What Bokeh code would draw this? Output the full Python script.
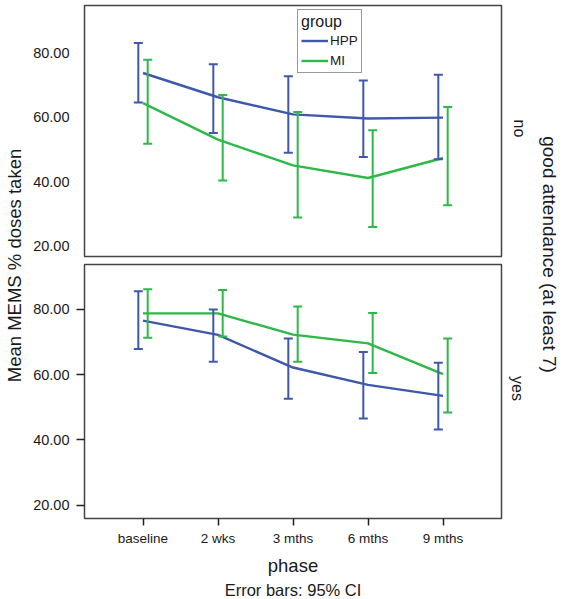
import numpy as np
from bokeh.plotting import figure
from bokeh.models import (Range1d, FixedTicker, NumeralTickFormatter, Legend, LegendItem,
                          Label, Title)
from bokeh.layouts import row, column
from bokeh.embed import file_html
from bokeh.resources import INLINE

# ---------------- data ----------------
phases = ["baseline", "2 wks", "3 mths", "6 mths", "9 mths"]
groups = ["HPP", "MI"]
y_ticks = [20, 40, 60, 80]

# good attendance = no (top panel)
no_hpp_mean = [73.7, 66.2, 60.9, 59.6, 59.9]
no_hpp_lo = [64.6, 55.1, 49.0, 47.7, 47.0]
no_hpp_hi = [83.0, 76.4, 72.7, 71.4, 73.2]
no_mi_mean = [64.4, 53.1, 45.1, 41.2, 47.4]
no_mi_lo = [51.8, 40.4, 29.0, 26.0, 32.8]
no_mi_hi = [77.8, 66.9, 61.6, 56.0, 63.2]

# good attendance = yes (bottom panel)
yes_hpp_mean = [76.6, 72.2, 62.2, 56.9, 53.5]
yes_hpp_lo = [67.9, 64.0, 52.6, 46.6, 43.2]
yes_hpp_hi = [85.6, 80.0, 71.1, 67.0, 63.7]
yes_mi_mean = [78.8, 78.8, 72.3, 69.6, 60.2]
yes_mi_lo = [71.3, 71.7, 64.0, 60.5, 48.4]
yes_mi_hi = [86.2, 86.0, 80.9, 78.9, 71.1]

FONT = "Liberation Sans"
HPP_COLOR = "#3E58AC"
MI_COLOR = "#2EB848"
DODGE = 0.0625
CAP = 0.06


def errbars(p, xs, lo, hi, color):
    p.segment(x0=xs, y0=lo, x1=xs, y1=hi, line_color=color, line_width=2)
    xl = [x - CAP for x in xs]
    xr = [x + CAP for x in xs]
    p.segment(x0=xl, y0=hi, x1=xr, y1=hi, line_color=color, line_width=2)
    p.segment(x0=xl, y0=lo, x1=xr, y1=lo, line_color=color, line_width=2)


def make_panel(hm, hl, hh, mm, ml, mh, y0, y1, frame_h, top_b, bot_b, show_x, tick_out, standoff):
    kw = {}
    if not show_x:
        kw["x_axis_type"] = None
    p = figure(frame_width=417, frame_height=frame_h,
               x_range=Range1d(-0.78, 4.78), y_range=Range1d(y0, y1),
               toolbar_location=None, output_backend="svg",
               min_border_left=52, min_border_right=3,
               min_border_top=top_b, min_border_bottom=bot_b, **kw)
    p.ygrid.visible = False
    if show_x:
        p.xgrid.visible = False
    p.outline_line_color = "#444444"
    p.outline_line_width = 1.5
    xs = list(range(len(phases)))
    lh = p.line(xs, hm, line_color=HPP_COLOR, line_width=2.4)
    lm = p.line(xs, mm, line_color=MI_COLOR, line_width=2.4)
    errbars(p, [x - DODGE for x in xs], hl, hh, HPP_COLOR)
    errbars(p, [x + DODGE for x in xs], ml, mh, MI_COLOR)

    ya = p.yaxis[0]
    ya.ticker = FixedTicker(ticks=y_ticks)
    ya.formatter = NumeralTickFormatter(format="0.00")
    ya.major_label_text_font = FONT
    ya.major_label_text_font_size = "14.5px"
    ya.major_label_text_color = "#1a1a1a"
    ya.major_tick_out = tick_out
    ya.major_tick_in = 0
    ya.minor_tick_out = 0
    ya.minor_tick_in = 0
    ya.major_tick_line_width = 1.5
    ya.major_tick_line_color = "#222222"
    ya.axis_line_color = None
    ya.major_label_standoff = standoff

    if show_x:
        xa = p.xaxis[0]
        xa.ticker = FixedTicker(ticks=xs)
        xa.major_label_overrides = {i: name for i, name in enumerate(phases)}
        xa.major_label_text_font = FONT
        xa.major_label_text_font_size = "13.5px"
        xa.major_label_text_color = "#1a1a1a"
        xa.major_tick_out = 7
        xa.major_tick_in = 0
        xa.minor_tick_out = 0
        xa.minor_tick_in = 0
        xa.major_tick_line_width = 1.5
        xa.major_tick_line_color = "#222222"
        xa.axis_line_color = None
        xa.major_label_standoff = 5
        xa.axis_label = "phase"
        xa.axis_label_text_font = FONT
        xa.axis_label_text_font_size = "18.5px"
        xa.axis_label_text_font_style = "normal"
        xa.axis_label_text_color = "#1a1a1a"
        xa.axis_label_standoff = 6
    return p, lh, lm


top, lh, lm = make_panel(no_hpp_mean, no_hpp_lo, no_hpp_hi, no_mi_mean, no_mi_lo, no_mi_hi,
                         16.9, 94.6, 251, 5, 4, False, 0, 15)
bottom, _, _ = make_panel(yes_hpp_mean, yes_hpp_lo, yes_hpp_hi, yes_mi_mean, yes_mi_lo, yes_mi_hi,
                          15.9, 93.8, 254, 4, 10, True, 8, 7)

legend = Legend(items=[LegendItem(label=groups[0], renderers=[lh]),
                       LegendItem(label=groups[1], renderers=[lm])],
                location=(213, 183), title="group",
                title_text_font=FONT, title_text_font_size="16px", title_text_font_style="normal",
                title_text_color="#1a1a1a", title_standoff=1,
                label_text_font=FONT, label_text_font_size="13.5px", label_text_color="#1a1a1a",
                label_standoff=2, label_height=17, glyph_height=17, glyph_width=27,
                spacing=3, padding=3, margin=0,
                border_line_color="#333333", border_line_width=1,
                background_fill_color="white", background_fill_alpha=1.0)
top.add_layout(legend)

bottom.add_layout(Title(text="Error bars: 95% CI", align="center", offset=92,
                        text_font=FONT, text_font_size="16.5px", text_font_style="normal",
                        text_color="#1a1a1a", standoff=0), "below")

SIDE_H = 520
LEFT_W = 30
RIGHT_X0 = 505


def text_fig(width):
    p = figure(width=width, height=SIDE_H, x_range=Range1d(0, width), y_range=Range1d(0, SIDE_H),
               x_axis_type=None, y_axis_type=None, toolbar_location=None,
               output_backend="svg", min_border=0, outline_line_color=None)
    return p


# page origin is the top-left corner (0, 0)
left = text_fig(LEFT_W)
left.add_layout(Label(x=14, y=SIDE_H - 265, text="Mean MEMS % doses taken", angle=np.pi / 2,
                      text_align="center", text_baseline="middle", text_font=FONT,
                      text_font_size="18.5px", text_color="#1a1a1a"))

right = text_fig(55)
right.add_layout(Label(x=520 - RIGHT_X0, y=SIDE_H - 128, text="no", angle=-np.pi / 2,
                       text_align="center", text_baseline="middle", text_font=FONT,
                       text_font_size="16px", text_color="#1a1a1a"))
right.add_layout(Label(x=518 - RIGHT_X0, y=SIDE_H - 388, text="yes", angle=-np.pi / 2,
                       text_align="center", text_baseline="middle", text_font=FONT,
                       text_font_size="16px", text_color="#1a1a1a"))
right.add_layout(Label(x=550 - RIGHT_X0, y=SIDE_H - 254, text="good attendance (at least 7)",
                       angle=-np.pi / 2, text_align="center", text_baseline="middle",
                       text_font=FONT, text_font_size="19px", text_color="#1a1a1a"))

layout = row(left, column(top, bottom, spacing=0), right, spacing=0)

open("out.html", "w").write(file_html(layout, INLINE))
